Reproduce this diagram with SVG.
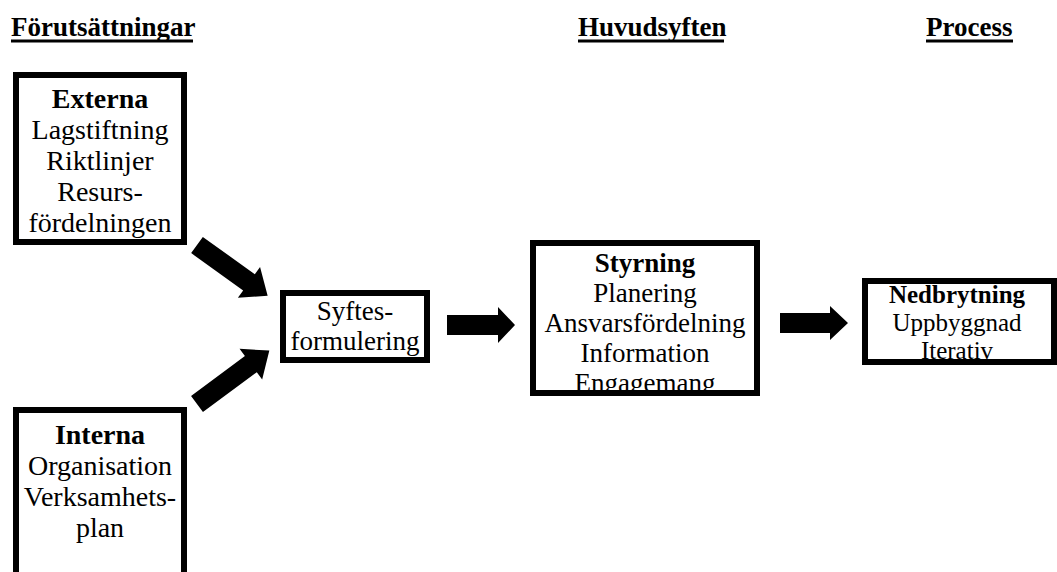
<svg xmlns="http://www.w3.org/2000/svg" width="1057" height="572" viewBox="0 0 1057 572">
  <defs>
    <style>
      text { font-family: "Liberation Serif", "Times New Roman", serif; font-size: 27px; fill: #000; text-anchor: middle; }
      .b { font-weight: bold; }
      .lg { font-size: 28px; }
      .md { font-size: 25px; }
      .hdr { font-weight: bold; text-anchor: start; }
      .ul { stroke: #000; stroke-width: 3; }
      .box { fill: #fff; stroke: #000; stroke-width: 6; }
      .frame { fill: none; stroke: #000; stroke-width: 6; }
      .arrow { fill: #000; }
    </style>
    <clipPath id="clipStyrning"><rect x="536" y="246" width="218" height="144"/></clipPath>
    <clipPath id="clipNed"><rect x="868" y="284" width="183" height="75"/></clipPath>
  </defs>

  <rect width="1057" height="572" fill="#fff"/>

  <!-- column headings -->
  <g id="headings">
    <text class="hdr" x="11" y="36">Förutsättningar</text>
    <line class="ul" x1="11" y1="41" x2="193" y2="41"/>
    <text class="hdr" x="578" y="36">Huvudsyften</text>
    <line class="ul" x1="578" y1="41" x2="724" y2="41"/>
    <text class="hdr" x="926" y="36">Process</text>
    <line class="ul" x1="926" y1="41" x2="1013" y2="41"/>
  </g>

  <g id="externa">
    <rect class="box" x="16" y="75" width="168" height="167"/>
    <text class="b lg" x="100" y="108">Externa</text>
    <text class="lg" x="100" y="139">Lagstiftning</text>
    <text class="lg" x="100" y="170">Riktlinjer</text>
    <text class="lg" x="100" y="201">Resurs-</text>
    <text class="lg" x="100" y="232">fördelningen</text>
  </g>

  <g id="interna">
    <rect class="box" x="16" y="410" width="168" height="200"/>
    <text class="b lg" x="100" y="444">Interna</text>
    <text class="lg" x="100" y="475">Organisation</text>
    <text class="lg" x="100" y="506">Verksamhets-</text>
    <text class="lg" x="100" y="537">plan</text>
  </g>

  <g id="syftesformulering">
    <rect class="box" x="283" y="293" width="144" height="67"/>
    <text x="355" y="320">Syftes-</text>
    <text x="355" y="350">formulering</text>
  </g>

  <g id="styrning">
    <rect class="box" x="533" y="243" width="224" height="150"/>
    <g clip-path="url(#clipStyrning)">
      <text class="b" x="645" y="272">Styrning</text>
      <text x="645" y="302">Planering</text>
      <text x="645" y="332">Ansvarsfördelning</text>
      <text x="645" y="362">Information</text>
      <text x="645" y="392">Engagemang</text>
    </g>
    <rect class="frame" x="533" y="243" width="224" height="150"/>
  </g>

  <g id="nedbrytning">
    <rect class="box" x="865" y="281" width="189" height="81"/>
    <g clip-path="url(#clipNed)">
      <text class="b md" x="957" y="303">Nedbrytning</text>
      <text class="md" x="957" y="331">Uppbyggnad</text>
      <text class="md" x="957" y="359">Iterativ</text>
    </g>
    <rect class="frame" x="865" y="281" width="189" height="81"/>
  </g>

  <!-- block arrows between the stages -->
  <g id="connectors">
    <polygon class="arrow" transform="translate(197,245) rotate(35.7)" points="0,-10 64,-10 64,-19 87,0 64,19 64,10 0,10"/>
    <polygon class="arrow" transform="translate(197,404) rotate(-36.5)" points="0,-10 67,-10 67,-19 90,0 67,19 67,10 0,10"/>
    <polygon class="arrow" transform="translate(447,325)" points="0,-10 51,-10 51,-18 68,0 51,18 51,10 0,10"/>
    <polygon class="arrow" transform="translate(780,323)" points="0,-10 50,-10 50,-17 68,0 50,17 50,10 0,10"/>
  </g>
</svg>
